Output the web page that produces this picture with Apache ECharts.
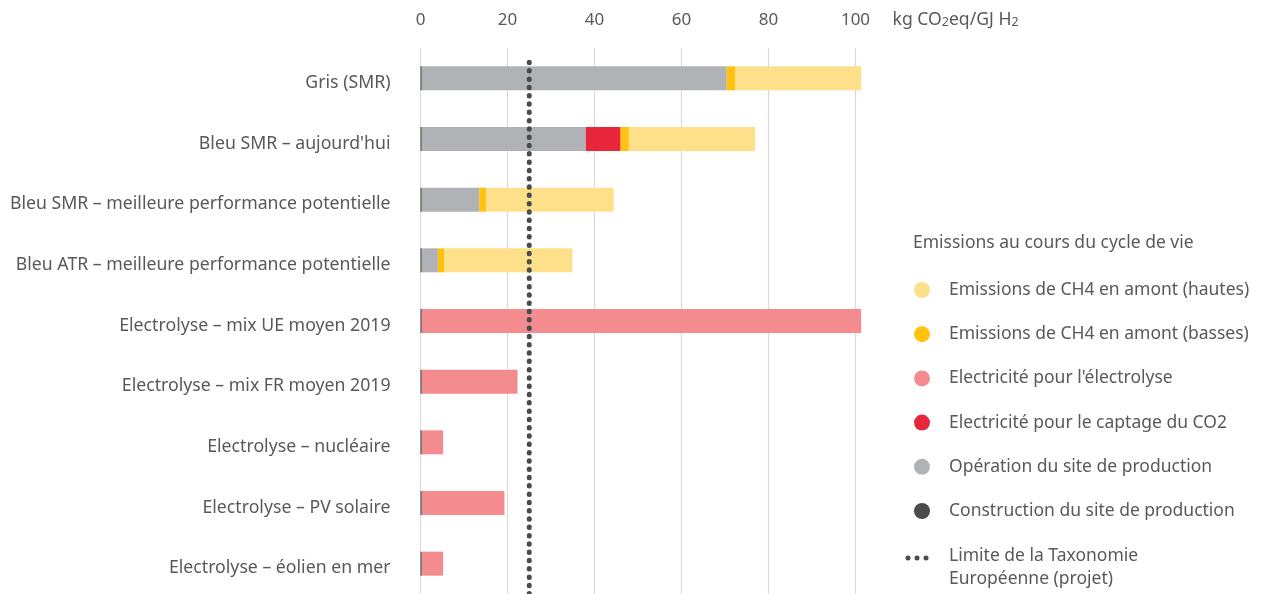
<!DOCTYPE html>
<html>
<head>
<meta charset="utf-8">
<script src="https://cdn.jsdelivr.net/npm/echarts@6/dist/echarts.min.js"></script>
<style>
html,body{margin:0;padding:0;background:#fff;}
#chart{width:1265px;height:594px;}
</style>
</head>
<body>
<div id="chart"></div>
<script>
// ---- data ----
const categories = [
  'Gris (SMR)',
  "Bleu SMR – aujourd'hui",
  'Bleu SMR – meilleure performance potentielle',
  'Bleu ATR – meilleure performance potentielle',
  'Electrolyse – mix UE moyen 2019',
  'Electrolyse – mix FR moyen 2019',
  'Electrolyse – nucléaire',
  'Electrolyse – PV solaire',
  'Electrolyse – éolien en mer'
];
const construction     = [0.3, 0.3, 0.3, 0.3, 0.3, 0.3, 0.3, 0.3, 0.3];
const operation        = [70.1, 37.7, 13.2, 3.7, 0, 0, 0, 0, 0];
const elecElectrolyse  = [0, 0, 0, 0, 101.0, 22.0, 4.9, 19.0, 4.9];
const elecCaptage      = [0, 8.0, 0, 0, 0, 0, 0, 0, 0];
const ch4Basses        = [1.9, 1.9, 1.6, 1.5, 0, 0, 0, 0, 0];
const ch4Hautes        = [29.0, 29.0, 29.3, 29.4, 0, 0, 0, 0, 0];
const taxonomyLimit    = 25;
const xTicks           = [0, 20, 40, 60, 80, 100];

const names = {
  hautes: 'Emissions de CH4 en amont (hautes)',
  basses: 'Emissions de CH4 en amont (basses)',
  elec: "Electricité pour l'électrolyse",
  capt: 'Electricité pour le captage du CO2',
  oper: 'Opération du site de production',
  constr: 'Construction du site de production'
};
const colors = {
  hautes: '#FFE08A', basses: '#FFC20E', elec: '#F48C8F',
  capt: '#E8263B', oper: '#B1B2B5', constr: '#4A4B4D'
};
const textColor = '#58595B';
const FONT = 'Noto Sans';

function bar(key, data) {
  return {
    name: names[key], type: 'bar', stack: 'total', data: data,
    barWidth: 24, clip: false,
    itemStyle: { color: colors[key] },
    emphasis: { disabled: true }
  };
}

const chart = echarts.init(document.getElementById('chart'));
chart.setOption({
  animation: false,
  textStyle: { fontFamily: FONT, color: textColor },
  grid: { left: 420.5, right: 409.5, top: 48, bottom: 0, containLabel: false },
  title: {
    text: 'Emissions au cours du cycle de vie',
    left: 908, top: 229,
    textStyle: { fontFamily: FONT, fontSize: 17.5, fontWeight: 'normal', color: textColor }
  },
  legend: {
    orient: 'vertical', left: 909, top: 275,
    icon: 'circle', itemWidth: 16, itemHeight: 16, itemGap: 24.2,
    selectedMode: false,
    textStyle: { fontFamily: FONT, fontSize: 17.5, color: textColor, lineHeight: 20, padding: [0, 0, 0, 14] },
    data: [names.hautes, names.basses, names.elec, names.capt, names.oper, names.constr]
  },
  xAxis: {
    type: 'value', position: 'top', min: 0, max: 100, interval: 20,
    axisLine: { show: false, onZero: false }, axisTick: { show: false },
    axisLabel: {
      margin: 19, fontFamily: FONT, fontSize: 17, color: textColor,
      customValues: xTicks
    },
    splitLine: { show: true, lineStyle: { color: '#DADADA', width: 1.2 } },
    name: 'kg CO{s|2}eq/GJ H{s|2}',
    nameLocation: 'end', nameGap: 37,
    nameTextStyle: {
      fontFamily: FONT, fontSize: 17.6, color: textColor, align: 'left',
      verticalAlign: 'middle', padding: [0, 0, 56, 0],
      rich: { s: { fontFamily: FONT, fontSize: 12.5, color: textColor, padding: [4, 0, 0, 0] } }
    }
  },
  yAxis: [{
    type: 'category', data: categories, inverse: true,
    axisLine: { show: false }, axisTick: { show: false },
    axisLabel: {
      margin: 30, color: textColor,
      formatter: function (v) { return '{a|' + v + '}'; },
      rich: { a: { fontFamily: FONT, fontSize: 17.7, color: textColor, padding: [9, 0, 0, 0] } }
    }
  }, {
    type: 'value', min: 0, max: 1, show: false
  }],
  series: [
    bar('constr', construction),
    bar('oper', operation),
    bar('elec', elecElectrolyse),
    bar('capt', elecCaptage),
    bar('basses', ch4Basses),
    bar('hautes', ch4Hautes),
    {
      name: 'Limite de la Taxonomie Européenne (projet)',
      type: 'line', yAxisIndex: 1, symbol: 'none', silent: true,
      data: [[taxonomyLimit, 0], [taxonomyLimit, 0.974]],
      lineStyle: { color: '#4A4B4D', width: 5, type: [0.5, 7.8], cap: 'round' },
      z: 5
    }
  ],
  graphic: [
    { type: 'circle', shape: { cx: 908, cy: 558, r: 2.5 }, style: { fill: '#4A4B4D' } },
    { type: 'circle', shape: { cx: 917, cy: 558, r: 2.5 }, style: { fill: '#4A4B4D' } },
    { type: 'circle', shape: { cx: 926, cy: 558, r: 2.5 }, style: { fill: '#4A4B4D' } },
    { type: 'text', left: 949, top: 545,
      style: { text: 'Limite de la Taxonomie\nEuropéenne (projet)', fontFamily: FONT, fontSize: 17.5, lineHeight: 23, fill: textColor } }
  ]
});
</script>
</body>
</html>
